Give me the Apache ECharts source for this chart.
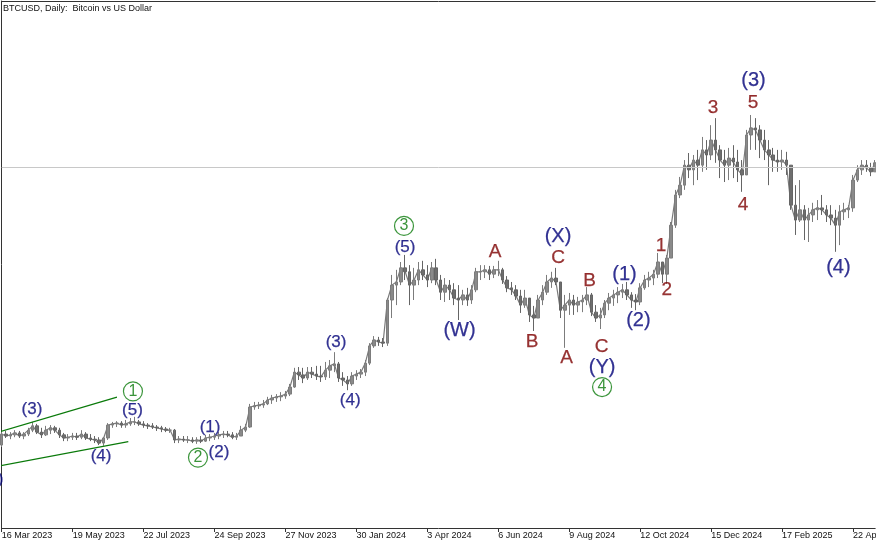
<!DOCTYPE html>
<html><head><meta charset="utf-8">
<script src="https://cdn.jsdelivr.net/npm/echarts/dist/echarts.min.js"></script>
<style>html,body{margin:0;padding:0;background:#fff;}#c{width:876px;height:545px;}</style>
</head><body><div id="c"></div>
<script>
// 4-day OHLC bars, BTCUSD, thousands of USD, first bar 16 Mar 2023
const barOpen = [24.9,27.7,27.2,27.5,28.0,27.2,27.7,28.7,29.8,28.2,27.5,28.7,29.3,28.7,27.5,26.7,26.9,27.2,26.9,27.7,
26.7,26.4,26.2,25.4,26.7,30.0,30.3,30.5,30.0,30.3,30.8,30.8,30.3,30.0,29.8,29.5,29.3,29.0,28.7,28.7,
26.2,26.4,26.2,26.2,25.9,26.2,25.9,26.7,26.9,27.2,27.5,27.7,27.5,26.9,27.2,28.7,29.5,34.6,34.9,35.1,
35.4,36.4,36.9,37.2,37.4,37.9,39.7,43.5,42.8,42.0,43.5,43.0,42.5,42.3,44.0,45.1,45.6,42.0,41.5,40.5,
42.5,43.0,43.5,45.8,50.2,51.7,51.2,50.9,61.9,65.7,66.5,70.1,69.1,65.7,67.0,69.6,68.3,67.0,70.1,67.0,
63.9,65.7,64.5,62.4,61.9,63.2,61.9,64.5,69.1,69.1,69.6,68.5,69.6,69.6,67.0,65.0,64.5,62.9,60.6,62.4,
58.1,57.3,61.9,63.9,66.5,67.5,66.5,59.3,60.6,61.9,60.6,61.4,61.9,63.2,58.8,57.3,58.1,61.1,62.4,63.2,
63.9,64.5,63.2,61.9,61.4,65.0,67.0,67.5,68.5,71.6,68.5,72.6,81.0,88.7,91.2,96.3,95.1,97.6,96.3,100.2,
98.9,102.7,100.2,97.6,96.3,98.1,97.1,95.1,93.8,104.0,105.8,105.3,102.7,100.2,98.9,97.6,97.1,97.6,96.3,86.1,
82.3,84.9,82.3,83.6,84.9,85.4,84.9,83.6,82.8,81.0,84.4,84.9,85.4,92.5,95.1,96.3,95.6,94.6];
const barClose = [27.7,27.2,27.5,28.0,27.2,27.7,28.7,29.8,28.2,27.5,28.7,29.3,28.7,27.5,26.7,26.9,27.2,26.9,27.7,26.7,
26.4,26.2,25.4,26.7,30.0,30.3,30.5,30.0,30.3,30.8,30.8,30.3,30.0,29.8,29.5,29.3,29.0,28.7,28.7,26.2,
26.4,26.2,26.2,25.9,26.2,25.9,26.7,26.9,27.2,27.5,27.7,27.5,26.9,27.2,28.7,29.5,34.6,34.9,35.1,35.4,
36.4,36.9,37.2,37.4,37.9,39.7,43.5,42.8,42.0,43.5,43.0,42.5,42.3,44.0,45.1,45.6,42.0,41.5,40.5,42.5,
43.0,43.5,45.8,50.2,51.7,51.2,50.9,61.9,65.7,66.5,70.1,69.1,65.7,67.0,69.6,68.3,67.0,70.1,67.0,63.9,
65.7,64.5,62.4,61.9,63.2,61.9,64.5,69.1,69.1,69.6,68.5,69.6,69.6,67.0,65.0,64.5,62.9,60.6,62.4,58.1,
57.3,61.9,63.9,66.5,67.5,66.5,59.3,60.6,61.9,60.6,61.4,61.9,63.2,58.8,57.3,58.1,61.1,62.4,63.2,63.9,
64.5,63.2,61.9,61.4,65.0,67.0,67.5,68.5,71.6,68.5,72.6,81.0,88.7,91.2,96.3,95.1,97.6,96.3,100.2,98.9,
102.7,100.2,97.6,96.3,98.1,97.1,95.1,93.8,104.0,105.8,105.3,102.7,100.2,98.9,97.6,97.1,97.6,96.3,86.1,82.3,
84.9,82.3,83.6,84.9,85.4,84.9,83.6,82.8,81.0,84.4,84.9,85.4,92.5,95.1,96.3,95.6,94.6,96.9];
const barLow = [24.4,26.7,26.4,26.9,26.7,26.4,27.2,28.2,27.7,26.7,27.2,27.7,28.0,26.7,25.9,25.9,26.2,26.2,26.4,26.2,
25.9,25.4,24.9,24.7,26.2,29.3,29.5,29.3,29.3,29.8,30.0,29.8,29.3,29.0,29.0,28.5,28.2,28.2,28.0,25.4,
25.4,25.7,25.4,25.4,25.2,25.4,25.7,25.9,26.2,26.4,26.7,26.9,26.4,26.2,27.2,28.2,29.3,33.9,34.1,34.4,
35.1,35.4,35.9,36.1,36.7,37.4,39.5,41.5,40.7,41.5,42.0,41.5,41.0,41.5,42.0,43.5,41.0,40.0,38.9,40.0,
41.5,42.0,42.5,45.3,49.7,50.2,49.9,50.2,57.3,60.6,65.7,67.0,60.6,61.9,65.7,67.0,65.2,66.2,65.7,61.9,
61.4,61.9,60.6,56.8,60.6,60.4,60.9,63.9,67.0,67.5,67.0,67.5,68.0,66.0,63.9,63.2,61.9,58.6,59.9,56.3,
54.0,57.3,60.6,63.2,65.0,65.7,57.3,49.7,58.1,58.1,58.8,58.8,60.6,57.8,56.3,54.5,57.3,59.3,60.4,61.1,
62.4,61.9,59.9,59.3,60.6,64.5,65.2,65.7,67.5,66.2,66.0,72.6,80.3,87.9,90.0,93.0,91.2,92.5,94.6,95.1,
97.6,96.9,93.0,92.0,92.5,93.0,92.0,89.5,93.8,100.2,100.2,98.1,97.6,91.2,94.6,94.6,95.1,93.8,84.9,78.5,
81.8,77.2,76.7,81.8,82.3,83.6,81.8,81.0,74.2,75.9,82.3,82.8,84.4,92.0,93.8,94.6,93.5,94.6];
const barHigh = [28.2,28.5,28.2,28.7,28.5,28.2,29.3,30.8,30.3,29.3,29.8,30.0,29.8,29.3,28.0,27.7,28.0,28.0,28.7,28.2,
27.7,27.2,26.9,26.9,30.5,30.8,31.0,31.0,31.3,31.8,32.1,31.3,31.0,30.5,30.5,30.0,29.8,29.5,29.3,29.0,
27.2,27.2,27.2,26.9,26.9,27.2,27.5,27.7,28.0,28.2,28.5,28.5,28.2,28.0,29.8,30.3,35.4,35.9,35.9,36.4,
37.2,37.7,37.9,38.4,38.7,40.5,44.6,44.8,44.6,44.8,44.8,45.1,45.1,46.1,46.6,48.6,46.1,43.5,42.5,43.5,
44.0,44.3,46.6,50.9,52.7,52.5,52.2,62.4,68.3,69.6,71.6,73.4,70.8,70.1,71.6,71.9,70.8,71.6,72.4,68.3,
67.5,67.0,66.2,65.7,64.5,65.0,65.7,70.1,70.8,70.8,70.6,70.6,71.9,70.1,68.0,66.5,65.7,64.5,64.5,61.9,
60.4,63.2,65.7,68.3,69.1,70.1,66.5,63.2,63.7,63.2,62.7,63.2,65.2,63.7,60.6,59.9,61.9,63.7,64.5,65.2,
66.0,66.5,63.9,63.4,66.2,68.3,69.1,69.6,73.9,71.6,73.4,81.8,90.0,93.3,97.6,99.4,98.9,100.2,103.5,102.7,
106.5,108.3,101.4,100.2,100.7,101.4,100.2,97.6,105.3,109.1,108.3,106.5,105.3,102.7,100.7,100.2,100.2,99.7,96.3,91.2,
92.5,86.1,85.4,86.7,87.4,88.7,86.1,86.1,84.9,86.1,86.7,86.1,93.8,96.3,97.6,97.6,96.9,97.6];

const bidLine = 95.8;                  // grey current-price line
const trendUpper = [[-0.38, 28.3], [26.0, 37.1]];
const trendLower = [[-0.38, 19.6], [28.55, 25.75]];

// wave labels: [text, bar position, price]
const navySmall = [['(2)',-1.96,16.2],['(3)',6.83,33.9],['(4)',22.4,22.1],['(5)',29.5,33.7],['(1)',47.0,29.5],
  ['(2)',49.0,23.1],['(3)',75.4,51.1],['(4)',78.6,36.4],['(5)',90.96,75.3]];
const navyLarge = [['(W)',103.25,54.0],['(X)',125.46,78.0],['(Y)',135.4,44.8],['(1)',140.46,68.5],['(2)',143.6,56.8],
  ['(3)',169.55,118.0],['(4)',188.7,70.1]];
const redLabels = [['A',111.25,74.2],['B',119.6,51.2],['C',125.46,72.6],['A',127.4,47.2],['B',132.57,66.9],['C',135.27,49.9],
  ['1',148.7,75.7],['2',150.0,64.5],['3',160.4,111.0],['5',169.45,112.2],['4',167.2,86.3]];
const greenCircles = [['1',29.6,38.6],['2',44.27,21.7],['3',90.73,80.8],['4',135.4,39.7]];

const monthNames = ['Jan','Feb','Mar','Apr','May','Jun','Jul','Aug','Sep','Oct','Nov','Dec'];
const categories = barClose.map((_, i) => {
  const d = new Date(Date.UTC(2023, 2, 16 + i * 4));
  return d.getUTCDate() + ' ' + monthNames[d.getUTCMonth()] + ' ' + d.getUTCFullYear();
});
const ohlc = barClose.map((c, i) => [barOpen[i], c, barLow[i], barHigh[i]]);

const FONT = 'Liberation Sans';
function labelSeries(list, color, size) {
  return {
    type: 'scatter', xAxisIndex: 1, clip: false, silent: true, z: 10,
    symbol: 'circle', symbolSize: 1, itemStyle: { color: 'rgba(0,0,0,0)' },
    data: list.map(l => ({ name: l[0], value: [l[1], l[2]] })),
    label: { show: true, position: 'inside', formatter: p => p.name, color: color,
      fontSize: size, fontFamily: FONT, textBorderColor: color, textBorderWidth: 0.25 }
  };
}

const chart = echarts.init(document.getElementById('c'), null, { renderer: 'canvas' });
chart.setOption({
  animation: false,
  backgroundColor: '#fff',
  title: { text: 'BTCUSD, Daily:  Bitcoin vs US Dollar', left: 3, top: 4, padding: 0,
    textStyle: { fontSize: 9, fontWeight: 'normal', color: '#111', fontFamily: FONT } },
  grid: { left: 1.7, right: 0.8, top: 1, bottom: 17, containLabel: false, outerBoundsMode: 'none' },
  xAxis: [
    { type: 'category', data: categories, boundaryGap: false, position: 'bottom',
      axisLine: { lineStyle: { color: '#333', width: 1 } },
      axisTick: { interval: 15, length: 4, lineStyle: { color: '#333' } },
      axisLabel: { interval: 15, align: 'left', margin: 3, fontSize: 9, color: '#111', fontFamily: FONT,
        hideOverlap: false },
      splitLine: { show: false } },
    { type: 'value', min: 0, max: 197, position: 'top',
      axisLine: { show: true, onZero: false, lineStyle: { color: '#333', width: 1 } },
      axisTick: { show: false }, axisLabel: { show: false }, splitLine: { show: false } }
  ],
  yAxis: { type: 'value', min: 3.74, max: 138.18,
    axisLine: { show: true, lineStyle: { color: '#333', width: 1 } },
    axisTick: { show: false }, axisLabel: { show: false }, splitLine: { show: false } },
  series: [
    { type: 'line', xAxisIndex: 0, data: barClose, symbol: 'none', silent: true,
      lineStyle: { color: '#7a7a7a', width: 1.2 }, z: 1,
      markLine: { silent: true, symbol: ['none', 'none'], label: { show: false },
        lineStyle: { color: '#c8c8c8', type: 'solid', width: 1 }, data: [{ yAxis: bidLine }] } },
    { type: 'candlestick', xAxisIndex: 0, data: ohlc, barWidth: 3, z: 2,
      itemStyle: { color: '#8a8a8a', color0: '#6e6e6e', borderColor: '#7c7c7c', borderColor0: '#656565', borderWidth: 1 } },
    { type: 'line', xAxisIndex: 1, data: trendUpper, symbol: 'none', clip: false, silent: true,
      lineStyle: { color: '#0a7a0a', width: 1.3 }, z: 5 },
    { type: 'line', xAxisIndex: 1, data: trendLower, symbol: 'none', clip: false, silent: true,
      lineStyle: { color: '#0a7a0a', width: 1.3 }, z: 5 },
    labelSeries(navySmall, '#000078', 17),
    labelSeries(navyLarge, '#000078', 20),
    labelSeries(redLabels, '#7d0000', 19),
    { type: 'scatter', xAxisIndex: 1, clip: false, silent: true, z: 10,
      symbol: 'circle', symbolSize: 19,
      itemStyle: { color: 'rgba(255,255,255,0)', borderColor: '#0a7a0a', borderWidth: 1.2 },
      data: greenCircles.map(l => ({ name: l[0], value: [l[1], l[2]] })),
      label: { show: true, position: 'inside', formatter: p => p.name, color: '#0a7a0a',
        fontSize: 16, fontFamily: FONT } }
  ]
});
</script></body></html>
